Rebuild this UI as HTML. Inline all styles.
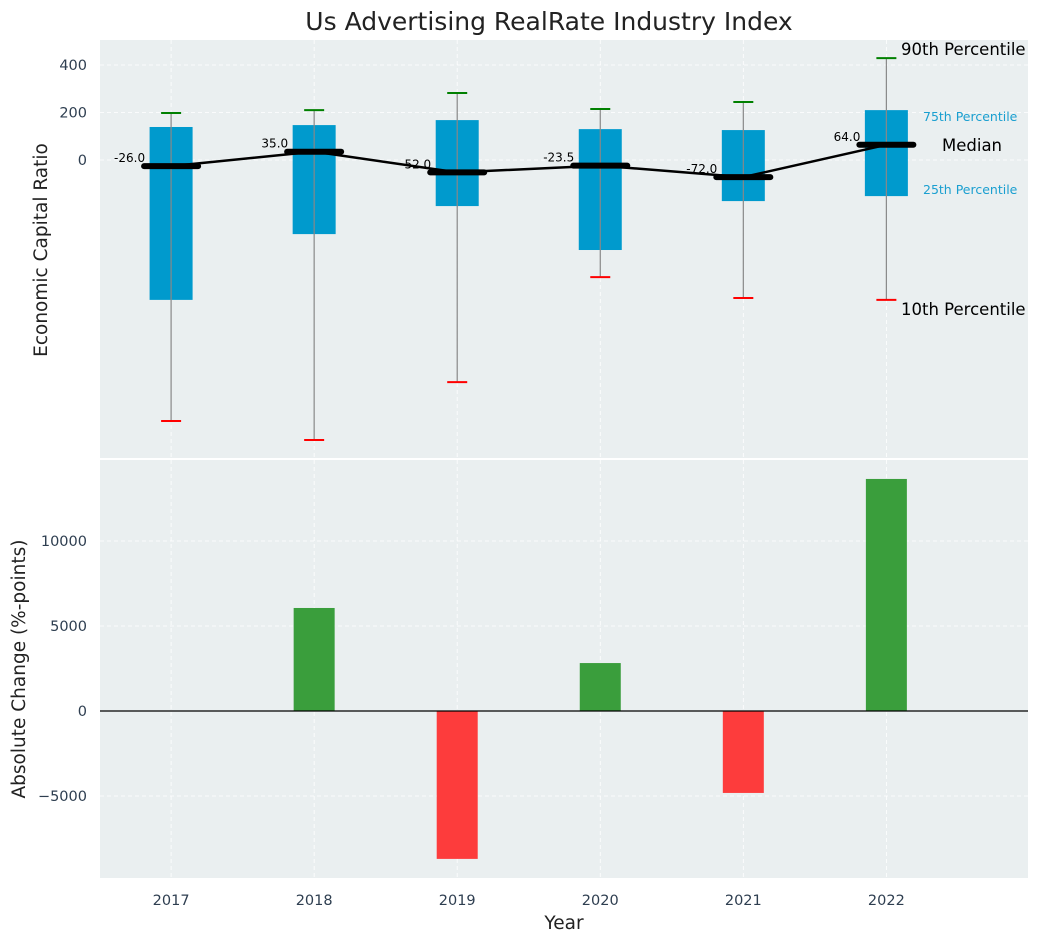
<!DOCTYPE html>
<html><head><meta charset="utf-8"><style>
body{margin:0;background:#fff;font-family:"Liberation Sans","DejaVu Sans",sans-serif}
svg text{font-family:"DejaVu Sans","Liberation Sans",sans-serif}
</style></head><body>
<svg id="c" width="1039" height="942" xmlns="http://www.w3.org/2000/svg"></svg>
<script>
const years=["2017","2018","2019","2020","2021","2022"];
const medians=[-26.0,35.0,-52.0,-23.5,-72.0,64.0];
const q75=[139,147,168,130,126,210];
const q25=[-589,-312,-194,-379,-173,-152];
const p90=[198,210,282,215,244,429];
const p10=[-1099,-1179,-935,-493,-581,-589];
const changes=[0,6060,-8700,2820,-4820,13650];
const topTicks=[0,200,400];
const botTicks=[-5000,0,5000,10000];

const svg=document.getElementById('c');
const NS="http://www.w3.org/2000/svg";
function el(t,a,p){const e=document.createElementNS(NS,t);for(const k in a)e.setAttribute(k,a[k]);(p||svg).appendChild(e);return e;}
const L=100,R=1028;
const x=i=>L+(i+0.497)*(R-L)/6.487;
const yT=v=>160-v*0.2375;
const yB=v=>711-v*0.017;

let bg=el('rect',{x:L,y:40,width:R-L,height:418,fill:'#eaeff0'});

bg=el('rect',{x:L,y:460,width:R-L,height:418,fill:'#eaeff0'});


years.forEach((y,i)=>{
 el('line',{x1:x(i),x2:x(i),y1:40,y2:458,stroke:'#fff','stroke-dasharray':'4,3','stroke-width':0.8});
 el('line',{x1:x(i),x2:x(i),y1:460,y2:878,stroke:'#fff','stroke-dasharray':'4,3','stroke-width':0.8});
 const t=el('text',{x:x(i),y:905,'text-anchor':'middle','font-size':14.5,fill:'#2e3e50'});t.textContent=y;
 
});
topTicks.forEach(v=>{
 el('line',{x1:L,x2:R,y1:yT(v),y2:yT(v),stroke:'#fff','stroke-dasharray':'4,3','stroke-width':0.8});
 const t=el('text',{x:87,y:yT(v)+5,'text-anchor':'end','font-size':14.5,fill:'#2e3e50'});t.textContent=v;
 
});
botTicks.forEach(v=>{
 el('line',{x1:L,x2:R,y1:yB(v),y2:yB(v),stroke:'#fff','stroke-dasharray':'4,3','stroke-width':0.8});
 const t=el('text',{x:87,y:yB(v)+5,'text-anchor':'end','font-size':14.5,fill:'#2e3e50'});t.textContent=v<0?'\u2212'+(-v):v;
 
});

years.forEach((y,i)=>{
 const cx=x(i);
 const b=el('rect',{x:cx-21.5,y:yT(q75[i]),width:43,height:yT(q25[i])-yT(q75[i]),fill:'#009acd'});
 
 el('line',{x1:cx,x2:cx,y1:yT(p90[i]),y2:yT(p10[i]),stroke:'#888','stroke-width':1.2});
 const w1=el('line',{x1:cx-10,x2:cx+10,y1:yT(p90[i]),y2:yT(p90[i]),stroke:'green','stroke-width':2});
 
 const w2=el('line',{x1:cx-10,x2:cx+10,y1:yT(p10[i]),y2:yT(p10[i]),stroke:'red','stroke-width':2});
 
});
const pl=el('polyline',{points:medians.map((m,i)=>x(i)+','+yT(m)).join(' '),fill:'none',stroke:'#000','stroke-width':2.5});

medians.forEach((m,i)=>{
 const cx=x(i);
 const s=el('line',{x1:cx-27,x2:cx+27,y1:yT(m),y2:yT(m),stroke:'#000','stroke-width':6,'stroke-linecap':'round'});
 
 const t=el('text',{x:cx-26,y:yT(m)-4,'text-anchor':'end','font-size':12,fill:'#000'});t.textContent=m.toFixed(1);
 
});
const ann=[['90th Percentile',901,55,16.5,'#000'],['10th Percentile',901,315,16.5,'#000'],['Median',942,151,16.5,'#000'],['75th Percentile',923,121,12.5,'#1a9fd0'],['25th Percentile',923,194,12.5,'#1a9fd0']];
ann.forEach(a=>{const t=el('text',{x:a[1],y:a[2],'font-size':a[3],fill:a[4]});t.textContent=a[0];
 });

changes.forEach((v,i)=>{
 const y0=Math.min(yB(0),yB(v)),h=Math.abs(yB(v)-yB(0));
 const r=el('rect',{x:x(i)-20.5,y:y0,width:41,height:h,fill:v>=0?'#3a9e3c':'#fd3c3c'});
 
});
const zl=el('line',{x1:L,x2:R,y1:yB(0),y2:yB(0),stroke:'#000','stroke-width':1.2});


let t=el('text',{x:549,y:30,'text-anchor':'middle','font-size':25,fill:'#222'});t.textContent='Us Advertising RealRate Industry Index';

t=el('text',{x:564,y:929,'text-anchor':'middle','font-size':18.5,fill:'#222'});t.textContent='Year';

t=el('text',{x:0,y:0,'text-anchor':'middle','font-size':18.5,fill:'#222',transform:'translate(47,250) rotate(-90)'});t.textContent='Economic Capital Ratio';

t=el('text',{x:0,y:0,'text-anchor':'middle','font-size':18.5,fill:'#222',transform:'translate(25,669) rotate(-90)'});t.textContent='Absolute Change (%-points)';

</script>
</body></html>
